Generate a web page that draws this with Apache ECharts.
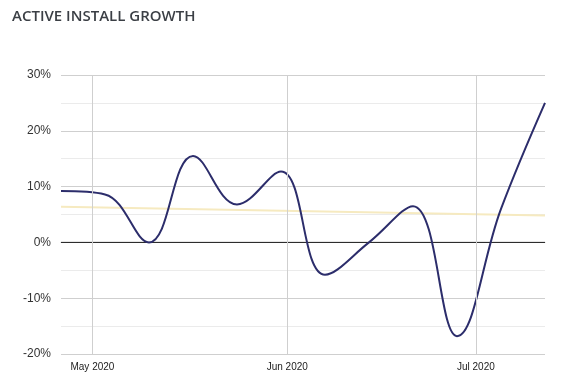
<!DOCTYPE html>
<html><head><meta charset="utf-8">
<script src="https://cdn.jsdelivr.net/npm/echarts@6/dist/echarts.min.js"></script>
<style>html,body{margin:0;padding:0;background:#fff}#c{width:583px;height:382px}</style>
</head><body><div id="c"></div>
<script>
const dates = ['2020-04-26','2020-05-03','2020-05-10','2020-05-17','2020-05-24','2020-05-31','2020-06-07','2020-06-14','2020-06-21','2020-06-28','2020-07-05','2020-07-12'];
const growth = [9.2, 8.6, 0.0, 15.5, 6.8, 12.7, -5.8, 0.0, 6.5, -16.8, 6.0, 25.0];
const trendDates = ['2020-04-26','2020-07-12'];
const trendValues = [6.4, 4.8];
const monthTicks = ['2020-05-01','2020-06-01','2020-07-01'];
const monthNames = ['Jan','Feb','Mar','Apr','May','Jun','Jul','Aug','Sep','Oct','Nov','Dec'];
const ts = d => new Date(d + 'T00:00:00Z').getTime();

const chart = echarts.init(document.getElementById('c'));
chart.setOption({
  animation: false,
  title: {
    text: 'ACTIVE INSTALL GROWTH', left: 7, top: 4,
    textStyle: {fontFamily: 'Open Sans', fontSize: 15, fontWeight: 600, color: '#3b3f45'}
  },
  grid: {left: 61, right: 38, top: 75, bottom: 28},
  xAxis: {
    type: 'value',
    min: ts(dates[0]), max: ts(dates[dates.length - 1]),
    axisLine: {show: true, lineStyle: {color: '#cccccc'}},
    axisTick: {show: false},
    axisLabel: {
      customValues: monthTicks.map(ts),
      formatter: v => { const d = new Date(v); return monthNames[d.getUTCMonth()] + ' ' + d.getUTCFullYear(); },
      color: '#222', fontSize: 10, fontFamily: 'Liberation Sans', margin: 8
    },
    splitLine: {show: false}
  },
  yAxis: {
    type: 'value', min: -20, max: 30, interval: 5,
    axisLine: {show: false}, axisTick: {show: false},
    axisLabel: {
      formatter: v => (v % 10 === 0 ? v + '%' : ''),
      color: '#333', fontSize: 12, fontFamily: 'Liberation Sans', margin: 10
    },
    splitLine: {lineStyle: {color: ['#cfcfcf', '#ebebeb'], width: 1}}
  },
  series: [
    {
      type: 'line', data: monthTicks.map(d => [ts(d), 0]), symbol: 'none', lineStyle: {width: 0},
      silent: true,
      markLine: {
        symbol: 'none', silent: true, label: {show: false},
        lineStyle: {color: '#cfcfcf', width: 1, type: 'solid'},
        data: monthTicks.map(d => ({xAxis: ts(d)}))
      }
    },
    {
      type: 'line', data: trendDates.map((d, i) => [ts(d), trendValues[i]]),
      symbol: 'none', lineStyle: {color: '#f6eac0', width: 2}, z: 2
    },
    {
      type: 'line', data: [[ts(dates[0]), 0], [ts(dates[dates.length - 1]), 0]],
      symbol: 'none', lineStyle: {color: '#1a1a1a', width: 1}, z: 3
    },
    {
      type: 'line', data: dates.map((d, i) => [ts(d), growth[i]]),
      smooth: 0.4, symbol: 'none', lineStyle: {color: '#2c2d6b', width: 2}, z: 4
    }
  ]
});
</script></body></html>
